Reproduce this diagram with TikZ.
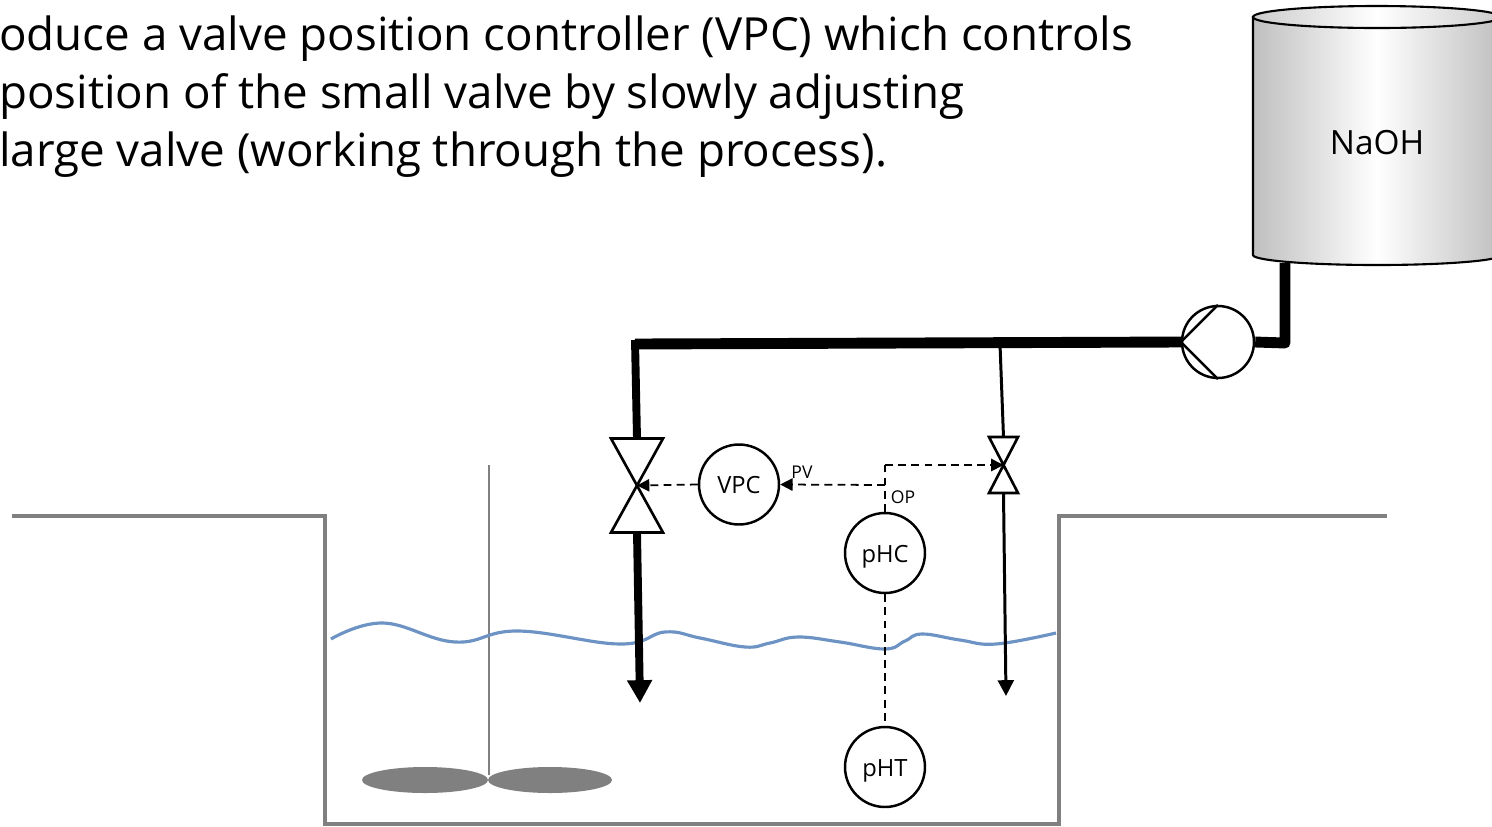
\documentclass[tikz,border=0pt]{standalone}
\usepackage{fontspec}
\setmainfont{Open Sans}
\usepackage{xcolor}
\usepackage{tikz}
\usetikzlibrary{arrows.meta}

\definecolor{waterblue}{HTML}{6C93C4}

\begin{document}
\begin{tikzpicture}[
    x=0.02cm, y=-0.02cm,
    ctrl/.style={circle, draw, line width=1.4pt, minimum size=1.6cm, inner sep=0pt, fill=white, text height=10.8pt, text depth=0pt, font=\fontsize{13.5}{13.5}\selectfont},
    bigvalve/.style={rectangle, minimum width=1.04cm, minimum height=1.88cm, inner sep=0pt, outer sep=0pt},
    smallvalve/.style={rectangle, minimum width=0.58cm, minimum height=1.12cm, inner sep=0pt, outer sep=0pt},
    valve/.style={line width=1.5pt, line join=miter, fill=white},
    wall/.style={line width=2.6pt, draw=black!50},
    pipemain/.style={line width=6.2pt, line join=round},
    pipebig/.style={line width=4.5pt, -{Triangle[length=13pt, width=13.5pt]}},
    pipesmall/.style={line width=1.7pt, -{Triangle[length=9pt, width=9pt]}},
    signal/.style={line width=1pt, dash pattern=on 4.5pt off 3pt},
    sigarrow/.style={signal, -{Triangle[length=7pt, width=7pt]}},
    tag/.style={font=\fontsize{10}{10}\selectfont, inner sep=0pt}
]

\useasboundingbox (0,0) rectangle (1492,826);
\clip (0,0) rectangle (1492,826);

% vessel
\draw[wall] (12,516) -- (325,516) -- (325,824) -- (1059,824) -- (1059,516) -- (1387,516);
\draw[line width=1.5pt, draw=black!50] (489,465) -- (489,775);
\fill[black!50] (425,780) ellipse (63 and 13);
\fill[black!50] (550,780) ellipse (62 and 13);
\draw[line width=1.8pt, draw=waterblue] plot[smooth, tension=0.7] coordinates {
    (331,639) (383,623) (455,642) (518,631) (620,644) (665,632) (700,638) (745,647)
    (770,643) (798,637) (840,642) (885,649) (905,641) (922,634) (960,640) (996,644) (1056,633)};

% tank
\draw[line width=1.2pt, left color=black!25, right color=black!25, middle color=white]
    (1253,17) -- (1253,255) arc[start angle=180, end angle=360, x radius=124, y radius=-10]
    -- (1501,17) -- cycle;
\draw[line width=1.2pt, left color=black!20, right color=black!20, middle color=white]
    (1377,17) ellipse (124 and 11);
\node[font=\fontsize{19}{19}\selectfont, inner sep=0pt] (tank) at (1377,143) {NaOH};
\coordinate (tankout) at (1285,263);
\coordinate (corner) at (1285,343);

% pump
\node[circle, draw, line width=1.4pt, minimum size=1.44cm, inner sep=0pt] (pump) at (1218,342) {};
\draw[line width=1.4pt] (pump.north) -- (pump.west) -- (pump.south);

% valves
\node[bigvalve] (vbig) at (637,485.5) {};
\node[smallvalve] (vsmall) at (1003.5,465) {};
\draw[valve] (vbig.north west) -- (vbig.north east) -- (vbig.south west) -- (vbig.south east) -- cycle;
\draw[valve] (vsmall.north west) -- (vsmall.north east) -- (vsmall.south west) -- (vsmall.south east) -- cycle;

% controllers
\node[ctrl] (vpc) at (739,484.5) {VPC};
\node[ctrl] (phc) at (885,553) {pHC};
\node[ctrl] (pht) at (885,767) {pHT};
\coordinate (opjoin) at (885,485);
\coordinate (optop) at (885,465);

% pipes
\coordinate (maincorner) at (635,344);
\coordinate (tee) at (1000,344);
\coordinate (bigend) at (640,703);
\coordinate (smallend) at (1006,696);
\draw[pipemain] (tankout) -- (corner) -- (pump.east);
\draw[line width=6.2pt] (pump.west) -- (maincorner);
\draw[line width=4.5pt] (635,340) -- (vbig.north);
\draw[pipebig] (vbig.south) -- (bigend);
\draw[line width=1.7pt] (tee) -- (vsmall.north);
\draw[pipesmall] (vsmall.south) -- (smallend);

% signals
\draw[sigarrow] (vpc.west) -- (vbig.center);
\draw[sigarrow] (opjoin) -- (vpc.east);
\draw[signal] (phc.north) -- (optop);
\draw[sigarrow] (optop) -- (vsmall.center);
\draw[signal] (phc.south) -- (pht.north);
\node[tag] (pv) at (802,472) {PV};
\node[tag] (op) at (903,497) {OP};

% heading
\node[anchor=north west, align=left, inner sep=0pt, font=\fontsize{26}{33}\selectfont] (intro) at (-1,15)
    {oduce a valve position controller (VPC) which controls\\position of the small valve by slowly adjusting\\large valve (working through the process).};

\end{tikzpicture}
\end{document}
